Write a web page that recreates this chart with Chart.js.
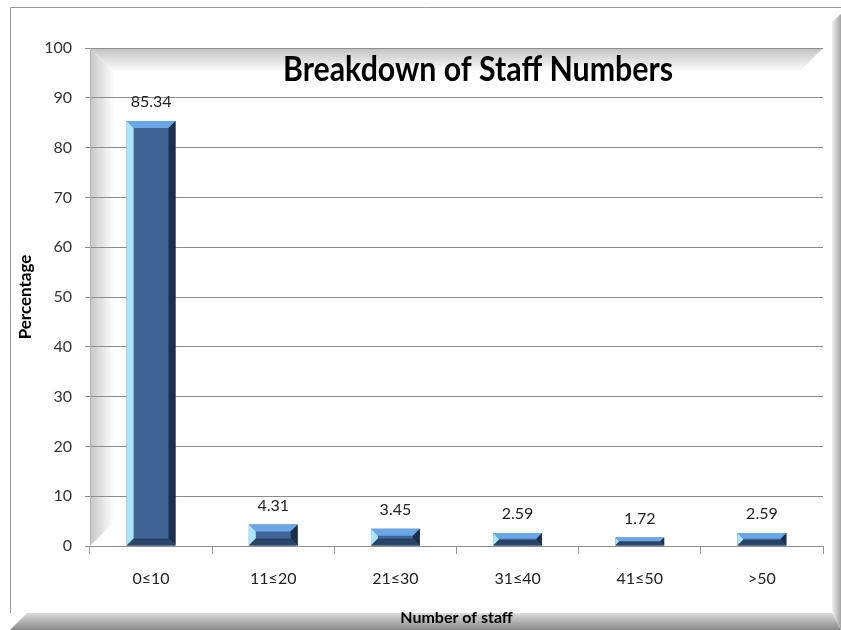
<!DOCTYPE html>
<html>
<head>
<meta charset="utf-8">
<script src="https://cdn.jsdelivr.net/npm/chart.js@4"></script>
<style>
  html, body { margin: 0; padding: 0; background: #fff; }
  #wrap { width: 841px; height: 630px; }
</style>
</head>
<body>
<div id="wrap"><canvas id="staffChart" width="841" height="630"></canvas></div>
<script>
// ─── Data ─────────────────────────────────────────────────────────────────
const categories = ['0≤10', '11≤20', '21≤30', '31≤40', '41≤50', '>50'];
const percentages = [85.34, 4.31, 3.45, 2.59, 1.72, 2.59];
const yTicks = [0, 10, 20, 30, 40, 50, 60, 70, 80, 90, 100];
const chartTitle = 'Breakdown of Staff Numbers';

const FONT = 'Lato, "Liberation Sans", sans-serif';

// ─── Frame + plot-area bevel, drawn under the grid ───────────────────────
const backdrop = {
    id: 'backdrop',
    beforeDraw(chart) {
        const { ctx, chartArea: a } = chart;
        const W = chart.width, H = chart.height;
        ctx.save();
        ctx.fillStyle = '#fff';
        ctx.fillRect(0, 0, W, H);

        // outer border
        ctx.strokeStyle = '#9a9a9a';
        ctx.lineWidth = 1;
        ctx.beginPath();
        ctx.moveTo(10.5, 613);
        ctx.lineTo(10.5, 7.5);
        ctx.lineTo(W, 7.5);
        ctx.stroke();

        // right band
        let g = ctx.createLinearGradient(832, 0, W, 0);
        g.addColorStop(0, '#f2f2f2');
        g.addColorStop(1, '#a4a4a4');
        ctx.fillStyle = g;
        ctx.beginPath();
        ctx.moveTo(832, 22); ctx.lineTo(W, 14); ctx.lineTo(W, H); ctx.lineTo(832, 613);
        ctx.closePath(); ctx.fill();

        // bottom band
        g = ctx.createLinearGradient(0, 613, 0, H);
        g.addColorStop(0, '#dcdcdc');
        g.addColorStop(1, '#888888');
        ctx.fillStyle = g;
        ctx.beginPath();
        ctx.moveTo(10, H); ctx.lineTo(27, 613); ctx.lineTo(832, 613); ctx.lineTo(W, H);
        ctx.closePath(); ctx.fill();

        // plot area bevel: top edge
        const b = 24;
        g = ctx.createLinearGradient(0, a.top, 0, a.top + b);
        g.addColorStop(0, '#c2c2c2');
        g.addColorStop(1, '#ffffff');
        ctx.fillStyle = g;
        ctx.beginPath();
        ctx.moveTo(a.left, a.top); ctx.lineTo(a.right, a.top);
        ctx.lineTo(a.right - b, a.top + b); ctx.lineTo(a.left + b, a.top + b);
        ctx.closePath(); ctx.fill();

        // plot area bevel: left edge
        g = ctx.createLinearGradient(a.left, 0, a.left + b, 0);
        g.addColorStop(0, '#c6c6c6');
        g.addColorStop(1, '#ffffff');
        ctx.fillStyle = g;
        ctx.beginPath();
        ctx.moveTo(a.left, a.top); ctx.lineTo(a.left + b, a.top + b);
        ctx.lineTo(a.left + b, a.bottom - b); ctx.lineTo(a.left, a.bottom);
        ctx.closePath(); ctx.fill();
        ctx.restore();
    }
};

// ─── Bevelled bars ─────────────────────────────────────────────────────────
const bevelBars = {
    id: 'bevelBars',
    afterDatasetsDraw(chart) {
        const { ctx } = chart;
        chart.getDatasetMeta(0).data.forEach(function (bar) {
            const l = bar.x - bar.width / 2, r = bar.x + bar.width / 2;
            const t = bar.y, btm = bar.base;
            const bv = Math.min(7, (btm - t) * 0.45);
            const poly = function (pts, color) {
                ctx.fillStyle = color;
                ctx.beginPath();
                ctx.moveTo(pts[0][0], pts[0][1]);
                pts.slice(1).forEach(p => ctx.lineTo(p[0], p[1]));
                ctx.closePath();
                ctx.fill();
            };
            ctx.save();
            poly([[l, t], [r, t], [r - bv, t + bv], [l + bv, t + bv]], '#6ba7e6');
            poly([[l, t], [l + bv, t + bv], [l + bv, btm - bv], [l, btm]], '#a9e6fb');
            poly([[r, t], [r, btm], [r - bv, btm - bv], [r - bv, t + bv]], '#1d2f4b');
            poly([[l, btm], [r, btm], [r - bv, btm - bv], [l + bv, btm - bv]], '#2a4468');
            ctx.restore();
        });
    }
};

// ─── Value labels + chart title ───────────────────────────────────────────
const labelsAndTitle = {
    id: 'labelsAndTitle',
    afterDraw(chart) {
        const { ctx } = chart;
        ctx.save();
        ctx.fillStyle = '#222';
        ctx.font = '16px ' + FONT;
        ctx.textAlign = 'center';
        ctx.textBaseline = 'middle';
        chart.getDatasetMeta(0).data.forEach(function (bar, i) {
            ctx.fillText(percentages[i].toFixed(2), bar.x, bar.y - 19);
        });

        ctx.fillStyle = '#000';
        ctx.font = 'bold 34px ' + FONT;
        ctx.textAlign = 'left';
        const w = ctx.measureText(chartTitle).width;
        ctx.translate(283, 70);
        ctx.scale(390 / w, 1);
        ctx.fillText(chartTitle, 0, 0);
        ctx.restore();
    }
};

new Chart(document.getElementById('staffChart'), {
    type: 'bar',
    data: {
        labels: categories,
        datasets: [{
            label: 'Percentage',
            data: percentages,
            backgroundColor: '#3e6595',
            borderWidth: 0,
            barPercentage: 0.4,
            categoryPercentage: 1.0
        }]
    },
    options: {
        responsive: false,
        animation: false,
        devicePixelRatio: 1,
        layout: { padding: { left: 10, right: 18, top: 48, bottom: 0 } },
        plugins: {
            legend: { display: false },
            title: { display: false },
            tooltip: { enabled: false }
        },
        scales: {
            x: {
                afterFit(scale) { scale.height = 84; },
                grid: {
                    drawOnChartArea: false,
                    offset: true,
                    tickLength: 8,
                    color: '#9a9a9a'
                },
                border: { display: true, color: '#8c8c8c' },
                ticks: {
                    color: '#222',
                    font: { family: FONT, size: 16 },
                    padding: 15
                },
                title: {
                    display: true,
                    text: 'Number of staff',
                    color: '#000',
                    font: { family: FONT, size: 16, weight: 'bold' },
                    padding: { top: 0, bottom: 3 }
                }
            },
            y: {
                afterFit(scale) { scale.width = 80; },
                min: 0,
                max: 100,
                afterBuildTicks(scale) { scale.ticks = yTicks.map(v => ({ value: v })); },
                grid: { color: '#8c8c8c', tickLength: 5 },
                border: { display: true, color: '#b4b4b4' },
                ticks: {
                    color: '#333',
                    font: { family: FONT, size: 16 },
                    padding: 13
                },
                title: {
                    display: true,
                    text: 'Percentage',
                    color: '#000',
                    font: { family: FONT, size: 17, weight: 'bold' },
                    padding: { top: 5, bottom: 0 }
                }
            }
        }
    },
    plugins: [backdrop, bevelBars, labelsAndTitle]
});
</script>
</body>
</html>
